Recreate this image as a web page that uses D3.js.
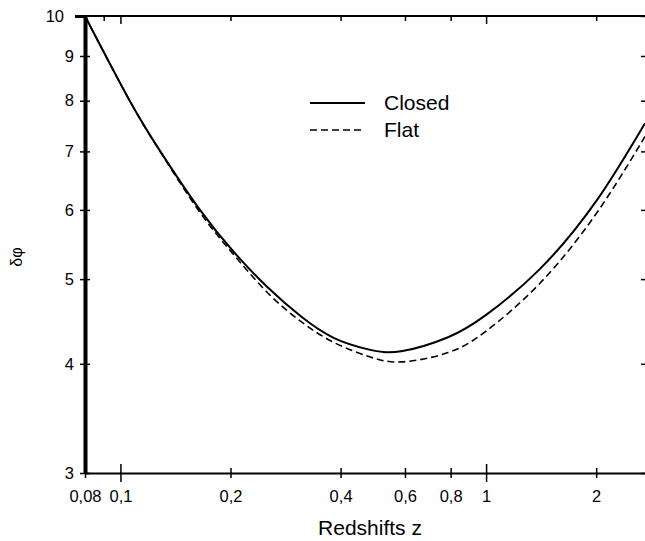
<!DOCTYPE html>
<html>
<head>
<meta charset="utf-8">
<script src="https://cdn.jsdelivr.net/npm/d3@7/dist/d3.min.js"></script>
<style>
  body { margin: 0; background: #fff; }
  svg text { font-family: "Liberation Sans", Arial, sans-serif; fill: #000; }
</style>
</head>
<body>
<script>
// ---- data ----
var zClosed = [0.08, 0.106, 0.13, 0.165, 0.205, 0.253, 0.312, 0.384, 0.476, 0.586, 0.787, 1.0, 1.4, 2.0, 2.72];
var dClosed = [10, 8, 6.95, 6, 5.36, 4.89, 4.53, 4.28, 4.155, 4.135, 4.29, 4.55, 5.13, 6.14, 7.54];
var zFlat = [0.08, 0.106, 0.13, 0.165, 0.205, 0.253, 0.312, 0.384, 0.476, 0.586, 0.787, 1.0, 1.4, 2.0, 2.72];
var dFlat = [10, 8, 6.94, 5.96, 5.32, 4.82, 4.47, 4.23, 4.08, 4.02, 4.12, 4.36, 4.94, 5.94, 7.28];

var xTicks = [0.08, 0.1, 0.2, 0.4, 0.6, 0.8, 1, 2];
var xTopTicks = [0.09, 0.1, 0.2, 0.4, 0.6, 0.8, 1, 2];
var xMajor = [0.1, 1];
var yTicks = [3, 4, 5, 6, 7, 8, 9, 10];
var legendItems = [["Closed", "none"], ["Flat", "7,4"]];

var width = 645, height = 541;
var margin = { left: 85, right: 0, top: 16, bottom: 68 };

var svg = d3.select("body").append("svg").attr("width", width).attr("height", height);

var x = d3.scaleLog().domain([0.08, 2.72]).range([margin.left, width - margin.right]);
var y = d3.scaleLog().domain([3, 10]).range([height - margin.bottom, margin.top]);

var fmt = function (d) { return String(d).replace(".", ","); };

// bottom axis, ticks cross the line
var xAxisG = svg.append("g")
    .attr("transform", "translate(0," + y(3) + ")")
    .call(d3.axisBottom(x).tickValues(xTicks).tickFormat(fmt).tickSizeOuter(0));
xAxisG.select(".domain").attr("stroke", "#000").attr("stroke-width", 2);
xAxisG.selectAll(".tick line")
    .attr("stroke", "#000").attr("stroke-width", 1.5)
    .attr("y1", function (d) { return xMajor.indexOf(d) >= 0 ? -9 : -5; })
    .attr("y2", function (d) { return xMajor.indexOf(d) >= 0 ? 9 : 5; });
xAxisG.selectAll(".tick text").attr("y", 29).attr("dy", 0).attr("font-size", 16.5);

// top axis, ticks inward
var topG = svg.append("g")
    .attr("transform", "translate(0," + y(10) + ")")
    .call(d3.axisBottom(x).tickValues(xTopTicks).tickFormat("").tickSizeOuter(0));
topG.select(".domain").attr("stroke", "#000").attr("stroke-width", 2);
topG.selectAll(".tick line")
    .attr("stroke", "#000").attr("stroke-width", 1.5)
    .attr("y2", function (d) { return xMajor.indexOf(d) >= 0 ? 8 : 5; });
topG.select(".domain").attr("d", "M" + (x(0.08) - 10) + ",0H" + width);

// left axis, thick
var yAxisG = svg.append("g")
    .attr("transform", "translate(" + x(0.08) + ",0)")
    .call(d3.axisLeft(y).tickValues(yTicks).tickFormat(d3.format("d")).tickSizeOuter(0));
yAxisG.select(".domain").attr("stroke", "#000").attr("stroke-width", 4);
yAxisG.selectAll(".tick line")
    .attr("stroke", "#000").attr("stroke-width", function (d) { return d == 10 ? 3 : 1.5; })
    .attr("x1", function (d) { return d == 10 ? -10 : -5; })
    .attr("x2", function (d) { return d == 10 ? 0 : 5; });
yAxisG.selectAll(".tick text")
    .attr("x", function (d) { return d == 10 ? -21 : -11; })
    .attr("font-size", 16.5);

// right ticks only
var rightG = svg.append("g")
    .attr("transform", "translate(" + width + ",0)")
    .call(d3.axisLeft(y).tickValues(yTicks).tickFormat("").tickSizeOuter(0));
rightG.select(".domain").remove();
rightG.selectAll(".tick line").attr("stroke", "#000").attr("stroke-width", 1.5).attr("x2", -4);

// axis titles
svg.append("text")
    .attr("x", 370).attr("y", 535)
    .attr("text-anchor", "middle")
    .attr("font-size", 21)
    .text("Redshifts z");
svg.append("text")
    .attr("transform", "translate(22,257) rotate(-90)")
    .attr("text-anchor", "middle")
    .attr("font-size", 16)
    .text("δφ");

// curves
var line = d3.line()
    .x(function (d) { return x(d[0]); })
    .y(function (d) { return y(d[1]); })
    .curve(d3.curveNatural);

svg.append("path")
    .datum(d3.zip(zClosed, dClosed))
    .attr("fill", "none").attr("stroke", "#000").attr("stroke-width", 2)
    .attr("d", line);
svg.append("path")
    .datum(d3.zip(zFlat, dFlat))
    .attr("fill", "none").attr("stroke", "#000").attr("stroke-width", 1.6)
    .attr("stroke-dasharray", "7,4")
    .attr("d", line);

// legend
var leg = svg.append("g").attr("transform", "translate(310,103)");
leg.selectAll("line").data(legendItems).enter().append("line")
    .attr("x1", 0).attr("x2", 55)
    .attr("y1", function (d, i) { return i * 27; })
    .attr("y2", function (d, i) { return i * 27; })
    .attr("stroke", "#000")
    .attr("stroke-width", function (d, i) { return i == 0 ? 2 : 1.6; })
    .attr("stroke-dasharray", function (d) { return d[1]; });
leg.selectAll("text").data(legendItems).enter().append("text")
    .attr("x", 74)
    .attr("y", function (d, i) { return i * 27; })
    .attr("dy", "0.35em")
    .attr("font-size", 21)
    .text(function (d) { return d[0]; });
</script>
</body>
</html>
